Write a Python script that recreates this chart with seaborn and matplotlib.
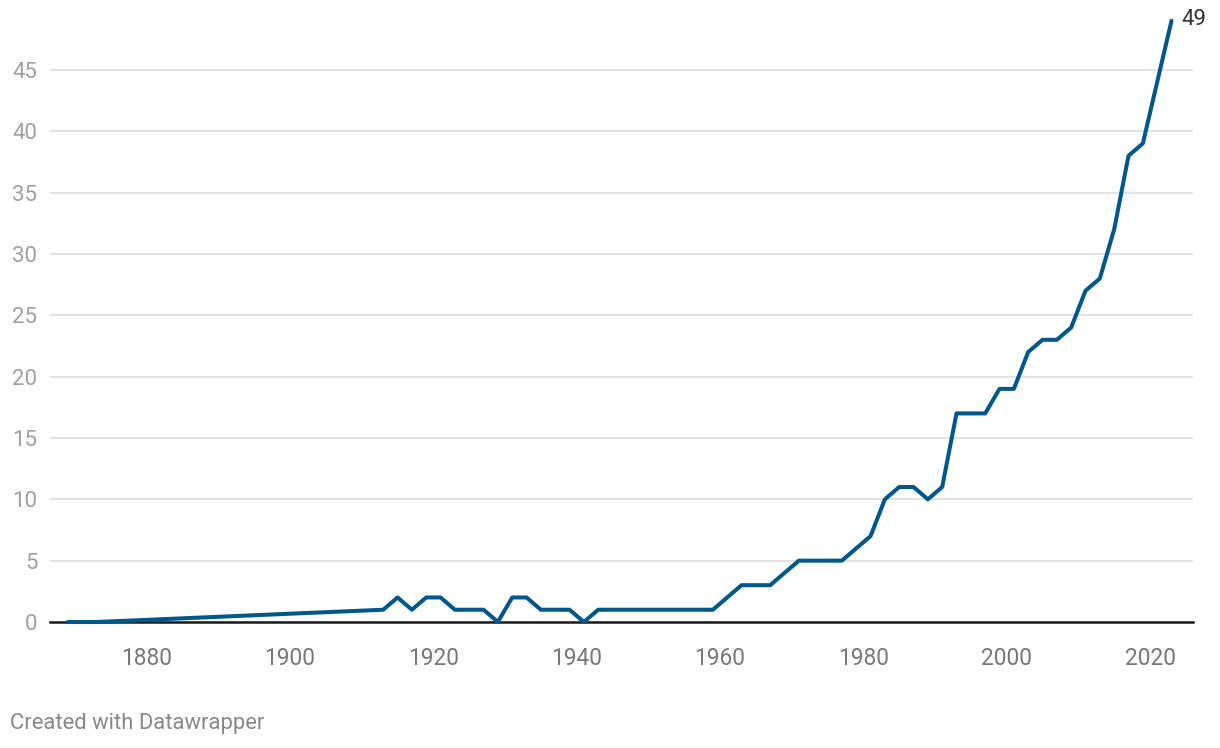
import matplotlib
matplotlib.use("Agg")
import matplotlib.pyplot as plt
import seaborn as sns
import pandas as pd

years = [1869, 1873, 1913, 1915, 1917, 1919, 1921, 1923, 1927, 1929, 1931, 1933,
         1935, 1939, 1941, 1943, 1959, 1963, 1967, 1971, 1977, 1981, 1983, 1985,
         1987, 1989, 1991, 1993, 1997, 1999, 2001, 2003, 2005, 2007, 2009, 2011,
         2013, 2015, 2017, 2019, 2023]
values = [0, 0, 1, 2, 1, 2, 2, 1, 1, 0, 2, 2,
          1, 1, 0, 1, 1, 3, 3, 5, 5, 7, 10, 11,
          11, 10, 11, 17, 17, 19, 19, 22, 23, 23, 24, 27,
          28, 32, 38, 39, 49]
x_ticks = [1880, 1900, 1920, 1940, 1960, 1980, 2000, 2020]
y_ticks = [0, 5, 10, 15, 20, 25, 30, 35, 40, 45]
footer = "Created with Datawrapper"

df = pd.DataFrame({"year": years, "value": values})

sns.set_theme(style="white")
plt.rcParams["font.family"] = ["Roboto", "DejaVu Sans"]

fig = plt.figure(figsize=(12.2, 7.48), dpi=100)
ax = fig.add_axes([50 / 1220, 1 - 622 / 748, (1193 - 50) / 1220, (622 - 20.8) / 748])

sns.lineplot(data=df, x="year", y="value", ax=ax, color="#00578a",
             linewidth=2.9, zorder=5, clip_on=False)

ax.set_xlim(1866.5, 2026.0)
ax.set_ylim(0, 49)
ax.set_xticks(x_ticks)
ax.set_yticks(y_ticks)
ax.set_xlabel("")
ax.set_ylabel("")

for s in ["top", "right", "left"]:
    ax.spines[s].set_visible(False)
ax.spines["bottom"].set_color("#1a1a1a")
ax.spines["bottom"].set_linewidth(1.8)
ax.spines["bottom"].set_zorder(4)

ax.yaxis.grid(True, color="#e3e3e3", linewidth=1.4)
ax.set_axisbelow(True)
ax.tick_params(axis="y", length=0, pad=9, labelsize=16, labelcolor="#a0a0a0")
ax.tick_params(axis="x", length=6, width=1.8, color="#1a1a1a", pad=12,
               labelsize=16.3, labelcolor="#777777", direction="out")

ax.annotate(str(values[-1]), xy=(years[-1], values[-1]), xytext=(7, 1),
            textcoords="offset points", ha="left", va="center",
            fontsize=16, color="#333333", annotation_clip=False)

fig.text(10 / 1220, 1 - 724 / 748, footer, ha="left", va="center",
         fontsize=15.8, color="#888888")

fig.savefig("out.png", dpi=100)
